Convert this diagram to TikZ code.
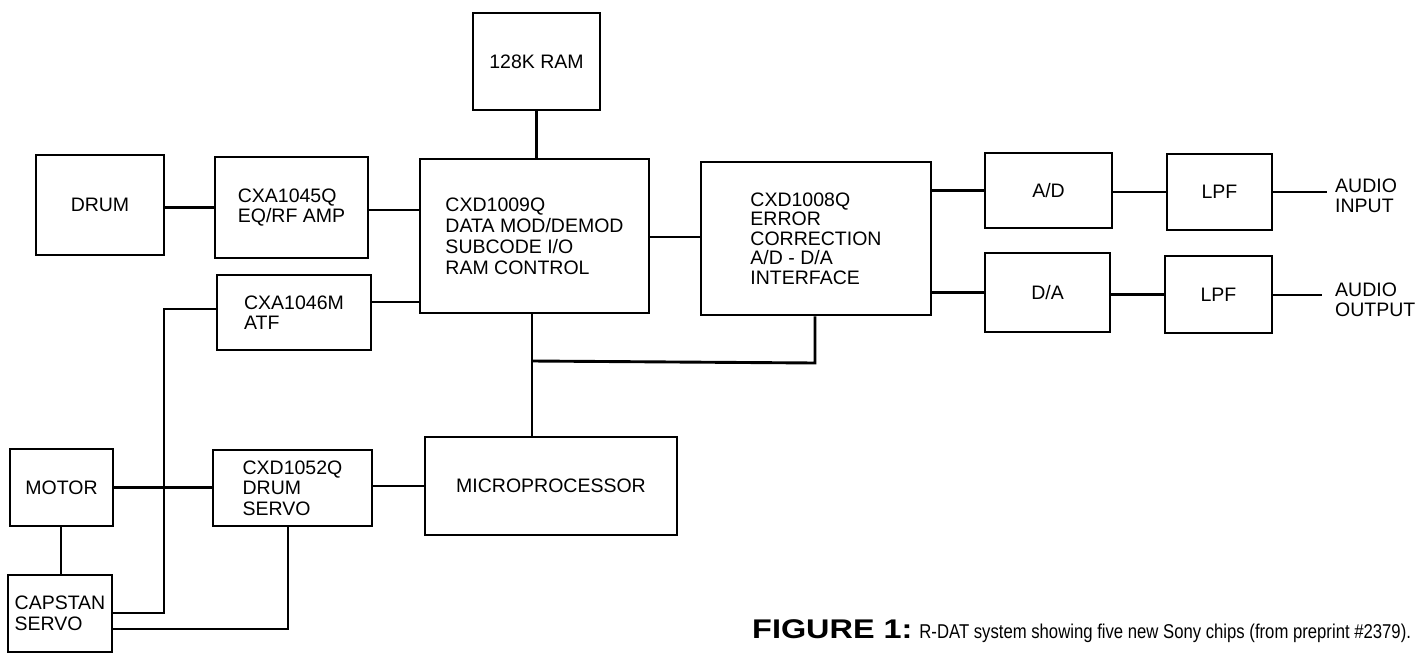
\documentclass[tikz,border=0pt]{standalone}
\usepackage{fontspec}
\setmainfont{Liberation Sans}
\begin{document}
\begin{tikzpicture}[x=1pt,y=-1pt,
  box/.style={draw, line width=2.9pt, inner sep=0pt, align=left,
    font=\fontsize{19.5}{20.5}\selectfont},
  wire/.style={line width=2.9pt},
  lbl/.style={inner sep=0pt, align=left, anchor=west,
    font=\fontsize{19.5}{20.5}\selectfont}]
\useasboundingbox (0,0) rectangle (1421,653);
% boxes
\node[box, minimum width=127pt, minimum height=97pt] (ram) at (536.5,61.5) {128K RAM};
\node[box, minimum width=229pt, minimum height=154pt, font=\fontsize{19.5}{21}\selectfont] (cxd9) at (534.5,236) {CXD1009Q\\DATA MOD/DEMOD\\SUBCODE I/O\\RAM CONTROL};
\node[box, minimum width=230pt, minimum height=153pt, font=\fontsize{19.5}{19.5}\selectfont] (cxd8) at (816,238.5) {CXD1008Q\\ERROR\\CORRECTION\\A/D - D/A\\INTERFACE};
\node[box, minimum width=128pt, minimum height=100pt] (drum) at (100,205) {DRUM};
\node[box, minimum width=153pt, minimum height=101pt] (eqrf) at (291.5,207.5) {CXA1045Q\\EQ/RF AMP};
\node[box, minimum width=154pt, minimum height=75pt] (atf) at (294,312.5) {CXA1046M\\ATF};
\node[box, minimum width=103pt, minimum height=77pt] (motor) at (61.5,487.5) {MOTOR};
\node[box, minimum width=104pt, minimum height=77pt] (capstan) at (60,613.5) {CAPSTAN\\SERVO};
\node[box, minimum width=159pt, minimum height=76pt] (dservo) at (292.5,488) {CXD1052Q\\DRUM\\SERVO};
\node[box, minimum width=252pt, minimum height=98pt] (micro) at (551,486) {MICROPROCESSOR};
\node[box, minimum width=127pt, minimum height=75pt] (ad) at (1048.5,190.5) {A/D};
\node[box, minimum width=125pt, minimum height=79pt] (da) at (1047.5,292.5) {D/A};
\node[box, minimum width=105pt, minimum height=76pt] (lpf1) at (1219.5,192) {LPF};
\node[box, minimum width=107pt, minimum height=77pt] (lpf2) at (1218.5,294.5) {LPF};
\node[lbl] (ain) at (1335,196) {AUDIO\\INPUT};
\node[lbl] (aout) at (1335,300) {AUDIO\\OUTPUT};
% free ends and bends
\coordinate (ainend) at (1327,192);
\coordinate (aoutend) at (1322,295);
\coordinate (bus) at (532,361);
\coordinate (busr) at (815,363);
\coordinate (atfbend) at (164,309);
\coordinate (capbend) at (288,629);
% connectors
\draw[wire] (eqrf.west) -- (eqrf.west -| drum.east);
\draw[wire] (eqrf.east |- 0,210) -- (cxd9.west |- 0,210);
\draw[wire] (atf.east |- 0,302) -- (cxd9.west |- 0,302);
\draw[wire] (ram.south) -- (ram.south |- cxd9.north);
\draw[wire] (cxd9.east |- 0,237) -- (cxd8.west |- 0,237);
\draw[wire] (bus |- cxd9.south) -- (bus |- micro.north);
\draw[wire] (bus) -- (busr) -- (busr |- cxd8.south);
\draw[wire] (micro.west) -- (micro.west -| dservo.east);
\draw[wire] (cxd8.east |- ad.west) -- (ad.west);
\draw[wire] (cxd8.east |- da.west) -- (da.west);
\draw[wire] (ad.east |- lpf1.west) -- (lpf1.west);
\draw[wire] (lpf1.east |- ainend) -- (ainend);
\draw[wire] (da.east |- lpf2.west) -- (lpf2.west);
\draw[wire] (lpf2.east |- aoutend) -- (aoutend);
\draw[wire] (motor.east) -- (motor.east -| dservo.west);
\draw[wire] (motor.south -| 61,0) -- (capstan.north -| 61,0);
\draw[wire] (atf.west |- atfbend) -- (atfbend) -- (atfbend |- 0,613) -- (capstan.east |- 0,613);
\draw[wire] (capstan.east |- capbend) -- (capbend) -- (capbend |- dservo.south);
% caption
\node[inner sep=0pt, anchor=base west] (cap) at (752,638)
  {\scalebox{1.2}[1]{\fontsize{27}{27}\selectfont\bfseries FIGURE 1:}\hspace{7pt}\scalebox{0.835}[1]{\fontsize{20}{20}\selectfont R-DAT system showing five new Sony chips (from preprint \#2379).}};
\end{tikzpicture}
\end{document}
